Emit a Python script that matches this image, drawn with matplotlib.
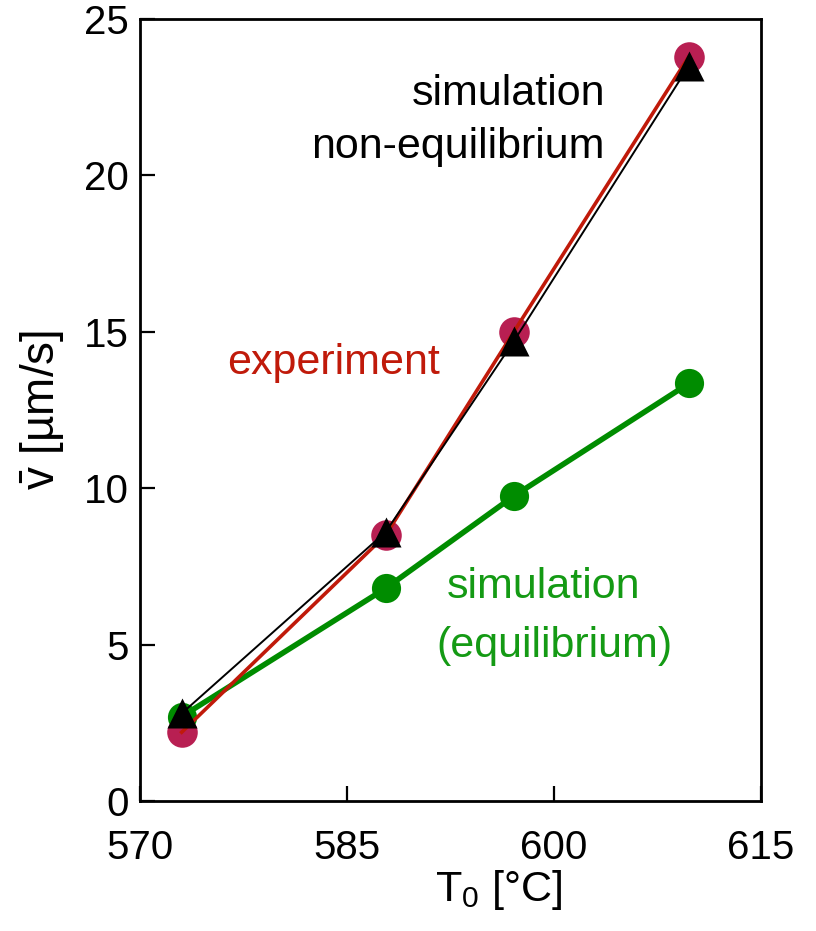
import matplotlib
matplotlib.use('Agg')
import matplotlib.pyplot as plt

plt.rcParams['font.family'] = ['Liberation Sans', 'DejaVu Sans']
plt.rcParams['mathtext.fontset'] = 'custom'
plt.rcParams['mathtext.rm'] = 'Liberation Sans'
plt.rcParams['mathtext.it'] = 'Liberation Sans:italic'

# data
t0 = [573.0, 587.8, 597.1, 609.8]
v_experiment = [2.2, 8.5, 15.0, 23.8]
v_sim_noneq = [2.8, 8.6, 14.7, 23.5]
v_sim_eq = [2.7, 6.8, 9.75, 13.35]

x_ticks = [570, 585, 600, 615]
y_ticks = [0, 5, 10, 15, 20, 25]

PINK = '#B81F52'
RED = '#C01A0A'
GREEN = '#008C00'
GREEN_TXT = '#149A14'

fig = plt.figure(figsize=(8.16, 9.31), dpi=100)
ax = fig.add_axes([0.172, 0.1396, 0.76, 0.84])

# equilibrium simulation
ax.plot(t0, v_sim_eq, '-', color=GREEN, lw=4, zorder=2)
ax.plot(t0, v_sim_eq, 'o', color=GREEN, ms=21, mec='none', zorder=2)

# experiment
ax.plot(t0, v_experiment, 'o', color=PINK, ms=22, mec='none', zorder=3)
ax.plot(t0, v_experiment, '-', color=RED, lw=2.6, zorder=4)

# non-equilibrium simulation
ax.plot(t0, v_sim_noneq, '-', color='black', lw=1.4, zorder=4)
ax.plot(t0, v_sim_noneq, '^', color='black', ms=21, mec='none', zorder=5)

ax.set_xlim(570, 615)
ax.set_ylim(0, 25)
ax.set_xticks(x_ticks)
ax.set_yticks(y_ticks)

for s in ax.spines.values():
    s.set_linewidth(2)
ax.tick_params(direction='in', length=11, width=1.6, labelsize=29)
ax.tick_params(axis='x', pad=20)
ax.tick_params(axis='y', pad=8)

ax.set_xlabel(r'T$_0$ [°C]', fontsize=31)
ax.xaxis.set_label_coords(0.578, -0.085)
ax.set_ylabel(r'$\bar{\mathrm{v}}$ [µm/s]', fontsize=33)
ax.yaxis.set_label_coords(-0.12, 0.5)

ax.text(603.7, 22.6, 'simulation', fontsize=31, ha='right', va='center', color='black')
ax.text(603.7, 20.9, 'non-equilibrium', fontsize=31, ha='right', va='center', color='black')
ax.text(576.3, 14.0, 'experiment', fontsize=31, ha='left', va='center', color=RED)
ax.text(592.2, 6.83, 'simulation', fontsize=31, ha='left', va='center', color=GREEN_TXT)
ax.text(591.5, 4.97, '(equilibrium)', fontsize=31, ha='left', va='center', color=GREEN_TXT)

fig.savefig('out.png', dpi=100)
